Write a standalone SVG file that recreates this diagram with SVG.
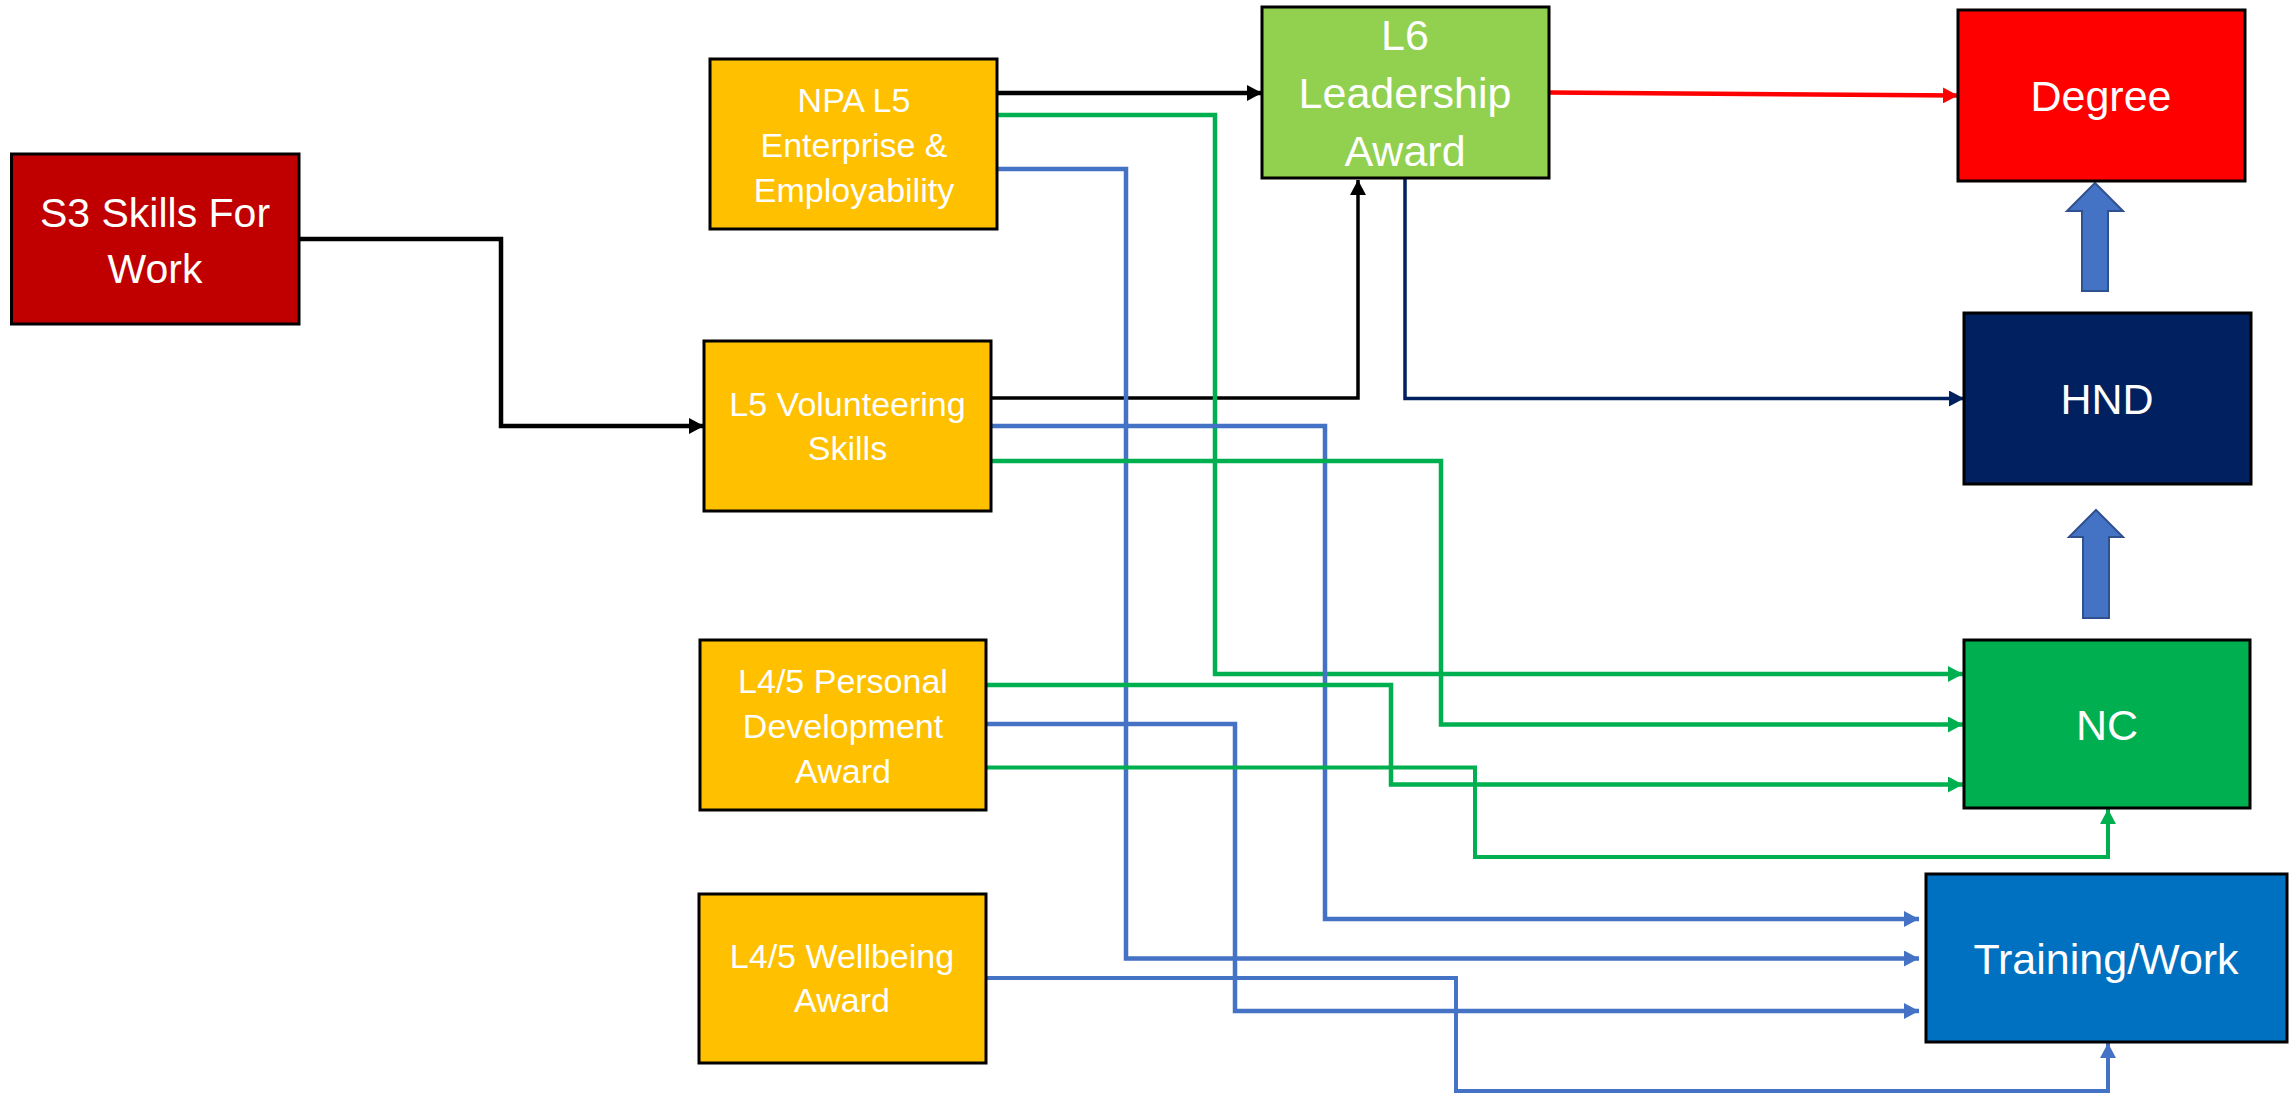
<svg xmlns="http://www.w3.org/2000/svg" width="2295" height="1096" viewBox="0 0 2295 1096">
<style>
.box{stroke:#000;stroke-width:3}
.t{font-family:"Liberation Sans",Arial,sans-serif;fill:#fff;text-anchor:middle}
.s{font-size:34px}
.b{font-size:43px}
.c{fill:none;stroke-linejoin:miter}
.blk{stroke:#000;stroke-width:4.5}
.grn{stroke:#00B050;stroke-width:4.5}
.blu{stroke:#4472C4;stroke-width:4.5}
.nav{stroke:#002060;stroke-width:3.5}
.red{stroke:#FF0000;stroke-width:4.5}
.ba{fill:#4472C4;stroke:#2F528F;stroke-width:2}
</style>
<defs>
<marker id="mk" markerUnits="userSpaceOnUse" markerWidth="16" markerHeight="16" refX="15" refY="8" orient="auto"><path d="M0,0 L15,8 L0,16 z" fill="#000"/></marker>
<marker id="mg" markerUnits="userSpaceOnUse" markerWidth="16" markerHeight="16" refX="15" refY="8" orient="auto"><path d="M0,0 L15,8 L0,16 z" fill="#00B050"/></marker>
<marker id="mb" markerUnits="userSpaceOnUse" markerWidth="16" markerHeight="16" refX="15" refY="8" orient="auto"><path d="M0,0 L15,8 L0,16 z" fill="#4472C4"/></marker>
<marker id="mn" markerUnits="userSpaceOnUse" markerWidth="16" markerHeight="16" refX="15" refY="8" orient="auto"><path d="M0,0 L15,8 L0,16 z" fill="#002060"/></marker>
<marker id="mr" markerUnits="userSpaceOnUse" markerWidth="16" markerHeight="16" refX="15" refY="8" orient="auto"><path d="M0,0 L15,8 L0,16 z" fill="#FF0000"/></marker>
</defs>
<rect width="2295" height="1096" fill="#fff"/>
<g id="connectors">
<path class="c blk" d="M299,239 H501 V426 H704" marker-end="url(#mk)"/>
<path class="c blk" d="M997,93 H1262" marker-end="url(#mk)"/>
<path class="c blk" style="stroke-width:3.5" d="M991,398 H1358 V180" marker-end="url(#mk)"/>
<path class="c red" d="M1549,92.5 L1958,95.5" marker-end="url(#mr)"/>
<path class="c nav" d="M1405,179 V398.5 H1964" marker-end="url(#mn)"/>
<path class="c grn" d="M997,115 H1215 V674 H1963" marker-end="url(#mg)"/>
<path class="c blu" d="M997,169 H1126 V958.5 H1919" marker-end="url(#mb)"/>
<path class="c blu" d="M991,426 H1325 V919 H1919" marker-end="url(#mb)"/>
<path class="c grn" d="M991,461 H1441 V724.5 H1963" marker-end="url(#mg)"/>
<path class="c grn" d="M986,685 H1391 V784.5 H1963" marker-end="url(#mg)"/>
<path class="c blu" d="M986,724 H1235 V1011 H1919" marker-end="url(#mb)"/>
<path class="c grn" style="stroke-width:4" d="M986,767.5 H1475 V857 H2108 V809" marker-end="url(#mg)"/>
<path class="c blu" style="stroke-width:4" d="M986,978 H1456 V1091 H2108 V1043" marker-end="url(#mb)"/>
<polygon class="ba" points="2095,183 2123,211 2108,211 2108,291 2082,291 2082,211 2067,211"/>
<polygon class="ba" points="2096,510 2123,537 2109,537 2109,618 2083,618 2083,537 2069,537"/>
</g>
<g id="s3">
<rect class="box" x="11.5" y="154" width="287.5" height="170" fill="#C00000"/>
<text class="t" style="font-size:41px" x="155" y="227">S3 Skills For</text>
<text class="t" style="font-size:41px" x="155" y="283">Work</text>
</g>
<g id="npa">
<rect class="box" x="710" y="59" width="287" height="170" fill="#FFC000"/>
<text class="t s" x="854" y="112">NPA L5</text>
<text class="t s" x="854" y="157">Enterprise &amp;</text>
<text class="t s" x="854" y="202">Employability</text>
</g>
<g id="l5">
<rect class="box" x="704" y="341" width="287" height="170" fill="#FFC000"/>
<text class="t s" x="847.5" y="416">L5 Volunteering</text>
<text class="t s" x="847.5" y="460">Skills</text>
</g>
<g id="personal">
<rect class="box" x="700" y="640" width="286" height="170" fill="#FFC000"/>
<text class="t s" x="843" y="693">L4/5 Personal</text>
<text class="t s" x="843" y="738">Development</text>
<text class="t s" x="843" y="783">Award</text>
</g>
<g id="wellbeing">
<rect class="box" x="699" y="894" width="287" height="169" fill="#FFC000"/>
<text class="t s" x="842" y="968">L4/5 Wellbeing</text>
<text class="t s" x="842" y="1012">Award</text>
</g>
<g id="l6">
<rect class="box" x="1262" y="7" width="287" height="171" fill="#92D050"/>
<text class="t b" x="1405" y="50">L6</text>
<text class="t b" x="1405" y="108">Leadership</text>
<text class="t b" x="1405" y="166">Award</text>
</g>
<g id="degree">
<rect class="box" x="1958" y="10" width="287" height="171" fill="#FF0000"/>
<text class="t b" x="2101" y="111">Degree</text>
</g>
<g id="hnd">
<rect class="box" x="1964" y="313" width="287" height="171" fill="#002060"/>
<text class="t b" x="2107" y="414">HND</text>
</g>
<g id="nc">
<rect class="box" x="1964" y="640" width="286" height="168" fill="#00B050"/>
<text class="t b" x="2107" y="740">NC</text>
</g>
<g id="training">
<rect class="box" x="1926" y="874" width="361" height="168" fill="#0070C0"/>
<text class="t b" x="2106" y="974">Training/Work</text>
</g>
</svg>
